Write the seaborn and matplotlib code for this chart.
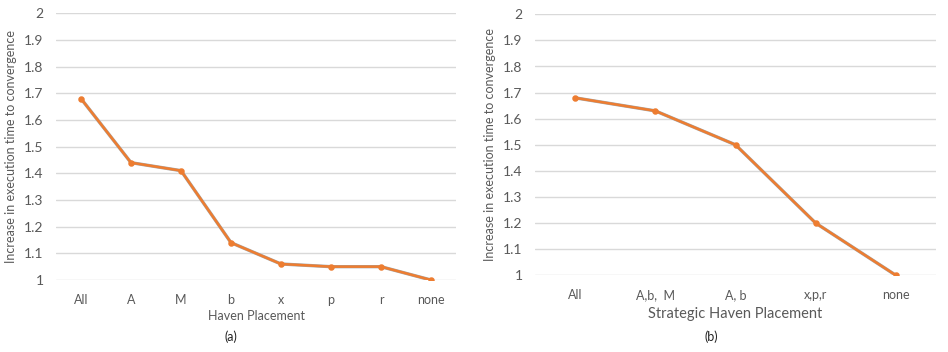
import matplotlib
matplotlib.use("Agg")
import matplotlib.pyplot as plt
import seaborn as sns

# data
placement_a = ["All", "A", "M", "b", "x", "p", "r", "none"]
increase_a = [1.68, 1.44, 1.41, 1.14, 1.06, 1.05, 1.05, 1.0]

placement_b = ["All", "A,b,  M", "A, b", "x,p,r", "none"]
increase_b = [1.68, 1.63, 1.50, 1.20, 1.0]

yticks = [1, 1.1, 1.2, 1.3, 1.4, 1.5, 1.6, 1.7, 1.8, 1.9, 2]
ytick_labels = ["1", "1.1", "1.2", "1.3", "1.4", "1.5", "1.6", "1.7", "1.8", "1.9", "2"]

sns.set_style("white")
plt.rcParams["font.family"] = ["Lato", "DejaVu Sans"]
txt = "#595959"
orange = "#ED7D31"

fig = plt.figure(figsize=(9.48, 3.52), dpi=100)
ax1 = fig.add_axes([56 / 948, 72 / 352, 400 / 948, 266.7 / 352])
ax2 = fig.add_axes([535 / 948, 76.7 / 352, 401 / 948, 261 / 352])


def draw(ax, cats, vals, xlabel, xl_size, xl_pad):
    # faint grey series sitting just under the orange one
    sns.pointplot(x=cats, y=vals, ax=ax, color="#A5A5A5", markers="",
                  linewidth=2.4, zorder=2)
    sns.pointplot(x=cats, y=vals, ax=ax, color=orange, markers="o",
                  markersize=3.3, linewidth=1.8, zorder=3)
    ax.set_ylim(1, 2)
    ax.set_yticks(yticks)
    ax.set_yticklabels(ytick_labels)
    ax.grid(axis="y", color="#d9d9d9", linewidth=1)
    ax.set_axisbelow(True)
    for s in ax.spines.values():
        s.set_visible(False)
    ax.tick_params(axis="y", length=0, pad=9, labelsize=10, labelcolor=txt)
    ax.tick_params(axis="x", length=0, pad=10, labelsize=9, labelcolor=txt)
    ax.set_xlabel(xlabel, fontsize=xl_size, color=txt, labelpad=xl_pad)
    ax.set_ylabel("Increase in execution time to convergence", fontsize=9,
                  color=txt, labelpad=5)


draw(ax1, placement_a, increase_a, "Haven Placement", 9, 3)
draw(ax2, placement_b, increase_b, "Strategic Haven Placement", 10.5, 4)

fig.text(231 / 948, 1 - 337 / 352, "(a)", ha="center", va="center", fontsize=9, color="#222222")
fig.text(711 / 948, 1 - 337 / 352, "(b)", ha="center", va="center", fontsize=9, color="#222222")

fig.savefig("out.png", dpi=100)
